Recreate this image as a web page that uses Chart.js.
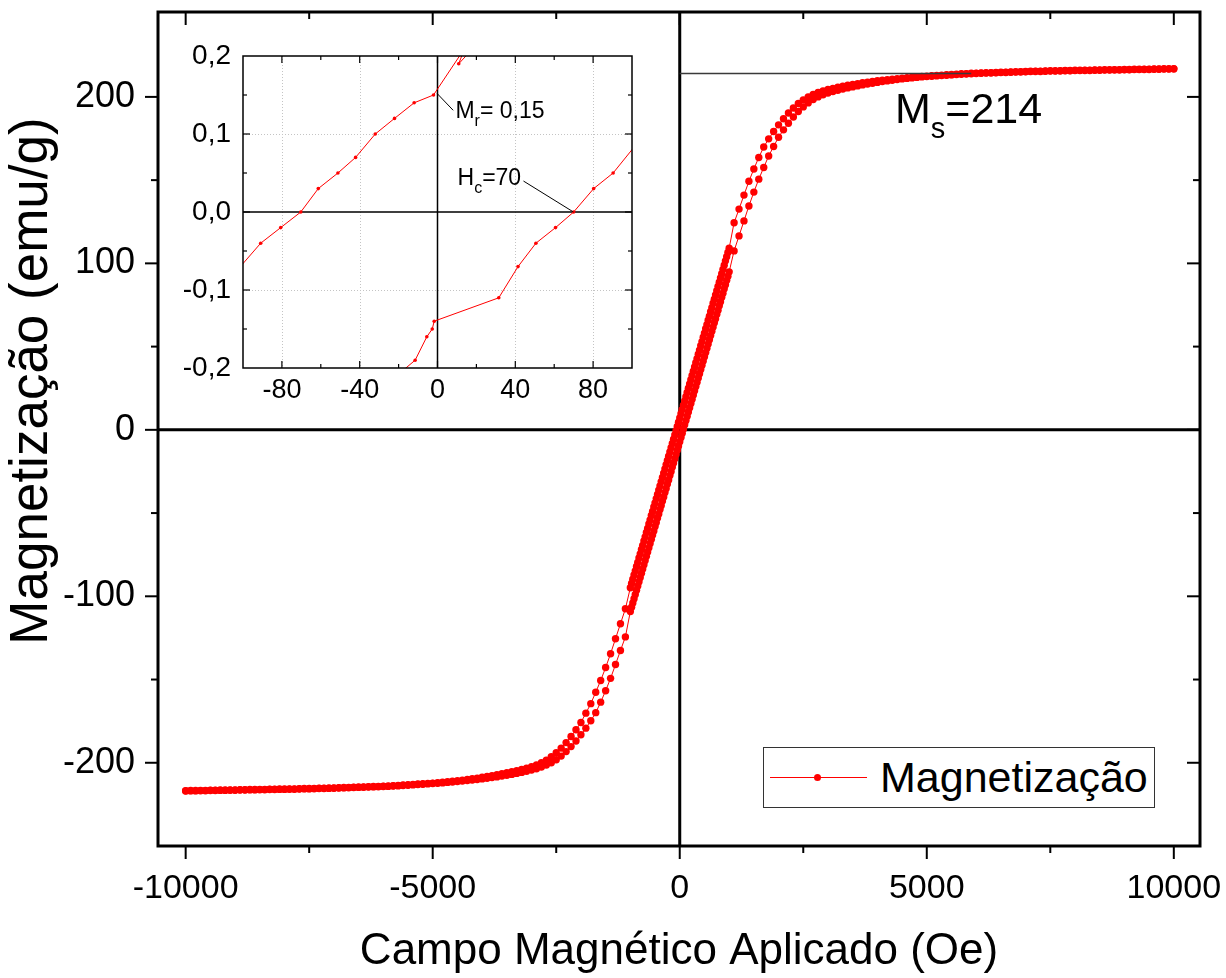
<!DOCTYPE html>
<html>
<head>
<meta charset="utf-8">
<script src="https://cdn.jsdelivr.net/npm/chart.js@4.4.1/dist/chart.umd.min.js"></script>
<style>
html,body{margin:0;padding:0;background:#fff;}
#wrap{position:relative;width:1226px;height:978px;overflow:hidden;}
#main{position:absolute;left:0;top:0;}
#inset{position:absolute;left:160px;top:45px;}
#legend{position:absolute;left:763px;top:747px;width:392px;height:61px;border:1px solid #333;box-sizing:border-box;background:#fff;font-family:'Liberation Sans',Arial,Helvetica,sans-serif;}
#legend .ln{position:absolute;left:6px;top:29px;width:97px;height:1px;background:#ff0000;}
#legend .dot{position:absolute;left:50px;top:26px;width:7px;height:7px;border-radius:50%;background:#ff0000;}
#legend .txt{position:absolute;left:116px;top:0;height:59px;line-height:59px;font-size:43px;color:#000;white-space:nowrap;}
</style>
</head>
<body>
<div id="wrap">
  <canvas id="main" width="1226" height="978"></canvas>
  <canvas id="inset" width="480" height="375"></canvas>
  <div id="legend"><div class="ln"></div><div class="dot"></div><span class="txt">Magnetização</span></div>
</div>
<script>
// ---------------- DATA (main hysteresis loop) ----------------
// Applied field grid (Oe)
const fieldNeg = [
-10000,-9900,-9800,-9700,-9600,-9500,-9400,-9300,-9200,-9100,
-9000,-8900,-8800,-8700,-8600,-8500,-8400,-8300,-8200,-8100,
-8000,-7900,-7800,-7700,-7600,-7500,-7400,-7300,-7200,-7100,
-7000,-6900,-6800,-6700,-6600,-6500,-6400,-6300,-6200,-6100,
-6000,-5900,-5800,-5700,-5600,-5500,-5400,-5300,-5200,-5100,
-5000,-4900,-4800,-4700,-4600,-4500,-4400,-4300,-4200,-4100,
-4000,-3900,-3800,-3700,-3600,-3500,-3400,-3300,-3200,-3100,
-3000,-2900,-2800,-2700,-2600,-2500,-2400,-2300,-2200,-2100,
-2000,-1900,-1800,-1700,-1600,-1500,-1400,-1300,-1200,-1100];
const fieldMid = [
-1000,-975,-950,-925,-900,-875,-850,-825,-800,-775,
-750,-725,-700,-675,-650,-625,-600,-575,-550,-525,
-500,-475,-450,-425,-400,-375,-350,-325,-300,-275,
-250,-225,-200,-175,-150,-125,-100,-75,-50,-25,
0,25,50,75,100,125,150,175,200,225,
250,275,300,325,350,375,400,425,450,475,
500,525,550,575,600,625,650,675,700,725,
750,775,800,825,850,875,900,925,950,975,
1000];
const fieldPos = [
1100,1200,1300,1400,1500,1600,1700,1800,1900,2000,
2100,2200,2300,2400,2500,2600,2700,2800,2900,3000,
3100,3200,3300,3400,3500,3600,3700,3800,3900,4000,
4100,4200,4300,4400,4500,4600,4700,4800,4900,5000,
5100,5200,5300,5400,5500,5600,5700,5800,5900,6000,
6100,6200,6300,6400,6500,6600,6700,6800,6900,7000,
7100,7200,7300,7400,7500,7600,7700,7800,7900,8000,
8100,8200,8300,8400,8500,8600,8700,8800,8900,9000,
9100,9200,9300,9400,9500,9600,9700,9800,9900,10000];

// Descending branch (from +10 kOe to -10 kOe), emu/g
const descNeg = [
-216.8,-216.7,-216.7,-216.6,-216.6,-216.5,-216.5,-216.4,-216.4,-216.3,
-216.3,-216.2,-216.2,-216.1,-216.1,-216.0,-216.0,-215.9,-215.9,-215.8,
-215.8,-215.7,-215.7,-215.6,-215.5,-215.5,-215.4,-215.3,-215.3,-215.2,
-215.1,-215.0,-214.9,-214.8,-214.7,-214.6,-214.5,-214.4,-214.3,-214.2,
-214.1,-213.9,-213.8,-213.6,-213.4,-213.2,-213.0,-212.8,-212.6,-212.4,
-212.2,-212.0,-211.7,-211.4,-211.1,-210.8,-210.4,-210.0,-209.6,-209.2,
-208.7,-208.2,-207.7,-207.2,-206.6,-206.0,-205.4,-204.7,-204.0,-203.2,
-202.3,-201.3,-200.0,-198.4,-196.4,-194.0,-191.2,-187.9,-184.2,-180.2,
-175.8,-170.2,-164.5,-157.6,-150.6,-142.8,-134.5,-125.5,-116.5,-107.5];
const descMid = [
-94.9,-92.3,-89.8,-87.2,-84.7,-82.1,-79.6,-77.0,-74.5,-71.9,
-69.4,-66.8,-64.3,-61.7,-59.2,-56.6,-54.1,-51.5,-49.0,-46.4,
-43.9,-41.3,-38.8,-36.2,-33.7,-31.1,-28.6,-26.0,-23.5,-20.9,
-18.4,-15.8,-13.3,-10.7,-8.2,-5.6,-3.1,-0.5,2.0,4.6,
7.1,9.7,12.2,14.8,17.3,19.9,22.4,25.0,27.5,30.1,
32.6,35.2,37.7,40.3,42.8,45.4,47.9,50.5,53.0,55.6,
58.1,60.7,63.2,65.8,68.3,70.9,73.4,76.0,78.5,81.1,
83.6,86.2,88.7,91.3,93.8,96.4,98.9,101.5,104.0,106.6,
109.1];
const descPos = [
124.4,132.6,141.0,149.3,156.7,163.6,169.9,174.8,179.2,183.2,
186.9,190.3,193.3,196.0,198.2,200.0,201.4,202.6,203.6,204.4,
205.1,205.8,206.4,207.0,207.5,208.0,208.5,208.9,209.3,209.7,
210.1,210.4,210.7,211.0,211.3,211.6,211.8,212.1,212.3,212.5,
212.7,212.9,213.1,213.3,213.5,213.7,213.9,214.0,214.2,214.3,
214.4,214.5,214.6,214.7,214.8,214.9,215.0,215.1,215.2,215.3,
215.4,215.5,215.5,215.6,215.7,215.7,215.8,215.9,215.9,216.0,
216.0,216.1,216.1,216.2,216.2,216.3,216.3,216.4,216.4,216.5,
216.5,216.6,216.6,216.7,216.7,216.8,216.8,216.9,216.9,217.0];

// Ascending branch (from -10 kOe to +10 kOe), emu/g
const ascNeg = [
-217.0,-216.9,-216.9,-216.8,-216.8,-216.7,-216.7,-216.6,-216.6,-216.5,
-216.5,-216.4,-216.4,-216.3,-216.3,-216.2,-216.2,-216.1,-216.1,-216.0,
-216.0,-215.9,-215.9,-215.8,-215.7,-215.7,-215.6,-215.5,-215.5,-215.4,
-215.3,-215.2,-215.1,-215.0,-214.9,-214.8,-214.7,-214.6,-214.5,-214.4,
-214.3,-214.2,-214.0,-213.9,-213.7,-213.5,-213.3,-213.1,-212.9,-212.7,
-212.5,-212.3,-212.1,-211.8,-211.6,-211.3,-211.0,-210.7,-210.4,-210.1,
-209.7,-209.3,-208.9,-208.5,-208.0,-207.5,-207.0,-206.4,-205.8,-205.1,
-204.4,-203.6,-202.6,-201.4,-200.0,-198.2,-196.0,-193.3,-190.3,-186.9,
-183.2,-179.2,-174.8,-169.9,-163.6,-156.7,-149.3,-141.0,-132.6,-124.4];
const ascMid = [
-109.1,-106.6,-104.0,-101.5,-98.9,-96.4,-93.8,-91.3,-88.7,-86.2,
-83.6,-81.1,-78.5,-76.0,-73.4,-70.9,-68.3,-65.8,-63.2,-60.7,
-58.1,-55.6,-53.0,-50.5,-47.9,-45.4,-42.8,-40.3,-37.7,-35.2,
-32.6,-30.1,-27.5,-25.0,-22.4,-19.9,-17.3,-14.8,-12.2,-9.7,
-7.1,-4.6,-2.0,0.5,3.1,5.6,8.2,10.7,13.3,15.8,
18.4,20.9,23.5,26.0,28.6,31.1,33.7,36.2,38.8,41.3,
43.9,46.4,49.0,51.5,54.1,56.6,59.2,61.7,64.3,66.8,
69.4,71.9,74.5,77.0,79.6,82.1,84.7,87.2,89.8,92.3,
94.9];
const ascPos = [
107.5,116.5,125.5,134.5,142.8,150.6,157.6,164.5,170.2,175.8,
180.2,184.2,187.9,191.2,194.0,196.4,198.4,200.0,201.3,202.3,
203.2,204.0,204.7,205.4,206.0,206.6,207.2,207.7,208.2,208.7,
209.2,209.6,210.0,210.4,210.8,211.1,211.4,211.7,212.0,212.2,
212.4,212.6,212.8,213.0,213.2,213.4,213.6,213.8,213.9,214.1,
214.2,214.3,214.4,214.5,214.6,214.7,214.8,214.9,215.0,215.1,
215.2,215.3,215.3,215.4,215.5,215.5,215.6,215.7,215.7,215.8,
215.8,215.9,215.9,216.0,216.0,216.1,216.1,216.2,216.2,216.3,
216.3,216.4,216.4,216.5,216.5,216.6,216.6,216.7,216.7,216.8];

// Saturation marker
const msValue = 214;
const msLineField = [0, 5900];

// Main axis ticks
const xMajorTicks = [-10000, -5000, 0, 5000, 10000];
const xMinorTicks = [-7500, -2500, 2500, 7500];
const xTickLabels = ['-10000', '-5000', '0', '5000', '10000'];
const yMajorTicks = [-200, -100, 0, 100, 200];
const yMinorTicks = [-150, -50, 50, 150];
const yTickLabels = ['-200', '-100', '0', '100', '200'];

// ---------------- DATA (inset, low-field zoom) ----------------
const insetDescField = [22, 10.9, 14, -2.05, -12, -22.1, -32, -42.1, -51.2, -61.3, -70.3, -80.6, -90.9, -101];
const insetDescMag   = [0.22, 0.19, 0.21, 0.15, 0.14, 0.12, 0.10, 0.07, 0.05, 0.03, 0.0, -0.02, -0.04, -0.069];
const insetAscField  = [-22, -11.5, -5.5, -2.7, -1.7, 31.5, 41.4, 50.6, 60.7, 70, 80.3, 90.3, 101];
const insetAscMag    = [-0.212, -0.19, -0.16, -0.15, -0.14, -0.11, -0.07, -0.04, -0.02, 0.0, 0.03, 0.05, 0.083];
const insetXMajor = [-80, -40, 0, 40, 80];
const insetXMinor = [-60, -20, 20, 60];
const insetXLabels = ['-80', '-40', '0', '40', '80'];
const insetYMajor = [-0.2, -0.1, 0, 0.1, 0.2];
const insetYMinor = [-0.15, -0.05, 0.05, 0.15];
const insetYLabels = ['-0,2', '-0,1', '0,0', '0,1', '0,2'];

// ---------------- helpers ----------------
const FONT = "'Liberation Sans', Arial, Helvetica, sans-serif";
const fieldAll = [...fieldNeg, ...fieldMid, ...fieldPos];
const descAll = [...descNeg, ...descMid, ...descPos];
const ascAll = [...ascNeg, ...ascMid, ...ascPos];
const toPts = (xs, ys) => xs.map((v, i) => ({x: v, y: ys[i]}));
const noPadX = s => { s.paddingLeft = 0; s.paddingRight = 0; };
const noPadY = s => { s.paddingTop = 0; s.paddingBottom = 0; };

function makeFrame(o) {
  return {
    id: o.id,
    beforeDatasetsDraw(chart) {
      const {ctx, chartArea: a, scales: {x, y}} = chart;
      ctx.save();
      if (o.fill) { ctx.fillStyle = '#fff'; ctx.fillRect(a.left, a.top, a.right - a.left, a.bottom - a.top); }
      if (o.grid) {
        ctx.strokeStyle = '#c4c4c4'; ctx.lineWidth = 1; ctx.setLineDash([1, 2]);
        o.xMajor.forEach(v => {
          if (v === 0 || v <= x.min || v >= x.max) return;
          const p = Math.round(x.getPixelForValue(v)) + 0.5;
          ctx.beginPath(); ctx.moveTo(p, a.top); ctx.lineTo(p, a.bottom); ctx.stroke();
        });
        o.yMajor.forEach(v => {
          if (v === 0 || v <= y.min || v >= y.max) return;
          const p = Math.round(y.getPixelForValue(v)) + 0.5;
          ctx.beginPath(); ctx.moveTo(a.left, p); ctx.lineTo(a.right, p); ctx.stroke();
        });
        ctx.setLineDash([]);
      }
      ctx.strokeStyle = '#000'; ctx.lineWidth = o.zeroWidth;
      const px = x.getPixelForValue(0), py = y.getPixelForValue(0);
      ctx.beginPath();
      ctx.moveTo(px, a.top); ctx.lineTo(px, a.bottom);
      ctx.moveTo(a.left, py); ctx.lineTo(a.right, py);
      ctx.stroke();
      ctx.restore();
    },
    afterDatasetsDraw(chart) {
      const {ctx, chartArea: a, scales: {x, y}} = chart;
      ctx.save();
      ctx.strokeStyle = '#000'; ctx.lineWidth = o.tickWidth; ctx.lineCap = 'butt';
      const seg = (x1, y1, x2, y2) => { ctx.beginPath(); ctx.moveTo(x1, y1); ctx.lineTo(x2, y2); ctx.stroke(); };
      const s = o.sides;
      [[o.xMajor, o.major], [o.xMinor, o.minor]].forEach(([vals, len]) => vals.forEach(v => {
        if (v <= x.min || v >= x.max) return;
        const p = x.getPixelForValue(v);
        seg(p, a.bottom, p, a.bottom + s.bottom * len);
        seg(p, a.top, p, a.top - s.top * len);
      }));
      [[o.yMajor, o.major], [o.yMinor, o.minor]].forEach(([vals, len]) => vals.forEach(v => {
        if (v <= y.min || v >= y.max) return;
        const p = y.getPixelForValue(v);
        seg(a.left, p, a.left - s.left * len, p);
        seg(a.right, p, a.right + s.right * len, p);
      }));
      ctx.lineWidth = o.frameWidth;
      ctx.strokeRect(a.left, a.top, a.right - a.left, a.bottom - a.top);
      ctx.restore();
    }
  };
}

function subText(ctx, x, y, main, sub, rest, size) {
  ctx.save();
  ctx.fillStyle = '#000'; ctx.textBaseline = 'alphabetic'; ctx.textAlign = 'left';
  ctx.font = size + 'px ' + FONT;
  ctx.fillText(main, x, y);
  let w = ctx.measureText(main).width;
  const ss = Math.round(size * 0.68);
  ctx.font = ss + 'px ' + FONT;
  ctx.fillText(sub, x + w, y + size * 0.34);
  w += ctx.measureText(sub).width;
  ctx.font = size + 'px ' + FONT;
  ctx.fillText(rest, x + w, y);
  ctx.restore();
}

// ---------------- MAIN CHART ----------------
const mainFrame = makeFrame({
  id: 'mainFrame', fill: false, grid: false, zeroWidth: 3, tickWidth: 2, frameWidth: 3,
  major: 13, minor: 7,
  xMajor: xMajorTicks, xMinor: xMinorTicks, yMajor: yMajorTicks, yMinor: yMinorTicks,
  sides: {bottom: 1, left: 1, top: -1, right: -1}
});
const mainText = {
  id: 'mainText',
  afterDraw(chart) {
    const {ctx, scales: {x, y}} = chart;
    subText(ctx, x.getPixelForValue(4357), y.getPixelForValue(184.3), 'M', 's', '=' + msValue, 43);
    ctx.save();
    ctx.translate(32, 381);
    ctx.rotate(-Math.PI / 2);
    ctx.font = '53px ' + FONT; ctx.fillStyle = '#000';
    ctx.textAlign = 'center'; ctx.textBaseline = 'middle';
    ctx.fillText('Magnetização (emu/g)', 0, 0);
    ctx.restore();
  }
};

new Chart(document.getElementById('main'), {
  type: 'scatter',
  data: {
    datasets: [
      {label: 'Ms', data: toPts(msLineField, [msValue, msValue]), showLine: true, borderColor: '#3a3a3a', borderWidth: 1.5, pointRadius: 0, order: -1},
      {label: 'Magnetização', data: toPts(fieldAll, descAll), showLine: true, borderColor: '#ff0000', borderWidth: 1,
       pointRadius: 3.7, pointBackgroundColor: '#ff0000', pointBorderWidth: 0, order: 1},
      {label: 'Magnetização ', data: toPts(fieldAll, ascAll), showLine: true, borderColor: '#ff0000', borderWidth: 1,
       pointRadius: 3.7, pointBackgroundColor: '#ff0000', pointBorderWidth: 0, order: 2}
    ]
  },
  options: {
    responsive: false, animation: false, devicePixelRatio: 1, events: [],
    layout: {padding: {top: 12, right: 26, left: 0, bottom: 0}},
    plugins: {legend: {display: false}, tooltip: {enabled: false}},
    scales: {
      x: {
        type: 'linear', position: 'bottom', min: -10560, max: 10530,
        afterBuildTicks: s => { s.ticks = xMajorTicks.map(v => ({value: v})); },
        afterFit: s => { s.height = 132; noPadX(s); },
        grid: {display: false, drawTicks: false}, border: {display: false},
        ticks: {padding: 22, autoSkip: false, maxRotation: 0, color: '#000', font: {family: FONT, size: 34},
                callback: (v, i) => xTickLabels[i]},
        title: {display: true, text: 'Campo Magnético Aplicado (Oe)', color: '#000', font: {family: FONT, size: 44}, padding: {top: 0, bottom: 0}}
      },
      y: {
        type: 'linear', position: 'left', min: -250, max: 251,
        afterBuildTicks: s => { s.ticks = yMajorTicks.map(v => ({value: v})); },
        afterFit: s => { s.width = 158; noPadY(s); },
        grid: {display: false, drawTicks: false}, border: {display: false},
        ticks: {padding: 23, autoSkip: false, color: '#000', font: {family: FONT, size: 36},
                callback: (v, i) => yTickLabels[i]}
      }
    }
  },
  plugins: [mainFrame, mainText]
});

// ---------------- INSET CHART ----------------
const insetFrame = makeFrame({
  id: 'insetFrame', fill: true, grid: true, zeroWidth: 1.5, tickWidth: 1.2, frameWidth: 1.5,
  major: 7, minor: 4,
  xMajor: insetXMajor, xMinor: insetXMinor, yMajor: insetYMajor, yMinor: insetYMinor,
  sides: {bottom: -1, left: -1, top: -1, right: -1}
});
const insetText = {
  id: 'insetText',
  afterDatasetsDraw(chart) {
    const {ctx, scales: {x, y}} = chart;
    ctx.save();
    ctx.strokeStyle = '#000'; ctx.lineWidth = 1;
    ctx.beginPath();
    ctx.moveTo(x.getPixelForValue(-0.15), y.getPixelForValue(0.1518));
    ctx.lineTo(x.getPixelForValue(8.06), y.getPixelForValue(0.1304));
    ctx.moveTo(x.getPixelForValue(44.2), y.getPixelForValue(0.0397));
    ctx.lineTo(x.getPixelForValue(69.9), y.getPixelForValue(0));
    ctx.stroke();
    ctx.restore();
    subText(ctx, x.getPixelForValue(9.2), y.getPixelForValue(0.120), 'M', 'r', '= 0,15', 23);
    subText(ctx, x.getPixelForValue(10.3), y.getPixelForValue(0.034), 'H', 'c', '=70', 23);
  }
};

new Chart(document.getElementById('inset'), {
  type: 'scatter',
  data: {
    datasets: [
      {label: 'desc', data: toPts(insetDescField, insetDescMag), showLine: true, borderColor: '#ff0000', borderWidth: 1,
       pointRadius: 1.8, pointBackgroundColor: '#ff0000', pointBorderWidth: 0},
      {label: 'asc', data: toPts(insetAscField, insetAscMag), showLine: true, borderColor: '#ff0000', borderWidth: 1,
       pointRadius: 1.8, pointBackgroundColor: '#ff0000', pointBorderWidth: 0}
    ]
  },
  options: {
    responsive: false, animation: false, devicePixelRatio: 1, events: [],
    layout: {padding: {top: 11, right: 8, left: 0, bottom: 0}},
    plugins: {legend: {display: false}, tooltip: {enabled: false}},
    scales: {
      x: {
        type: 'linear', position: 'bottom', min: -100, max: 100,
        afterBuildTicks: s => { s.ticks = insetXMajor.map(v => ({value: v})); },
        afterFit: s => { s.height = 52; noPadX(s); },
        grid: {display: false, drawTicks: false}, border: {display: false},
        ticks: {padding: 6, autoSkip: false, maxRotation: 0, color: '#000', font: {family: FONT, size: 27},
                callback: (v, i) => insetXLabels[i]}
      },
      y: {
        type: 'linear', position: 'left', min: -0.2, max: 0.2,
        afterBuildTicks: s => { s.ticks = insetYMajor.map(v => ({value: v})); },
        afterFit: s => { s.width = 83; noPadY(s); },
        grid: {display: false, drawTicks: false}, border: {display: false},
        ticks: {padding: 12, autoSkip: false, color: '#000', font: {family: FONT, size: 28},
                callback: (v, i) => insetYLabels[i]}
      }
    }
  },
  plugins: [insetFrame, insetText]
});
</script>
</body>
</html>
